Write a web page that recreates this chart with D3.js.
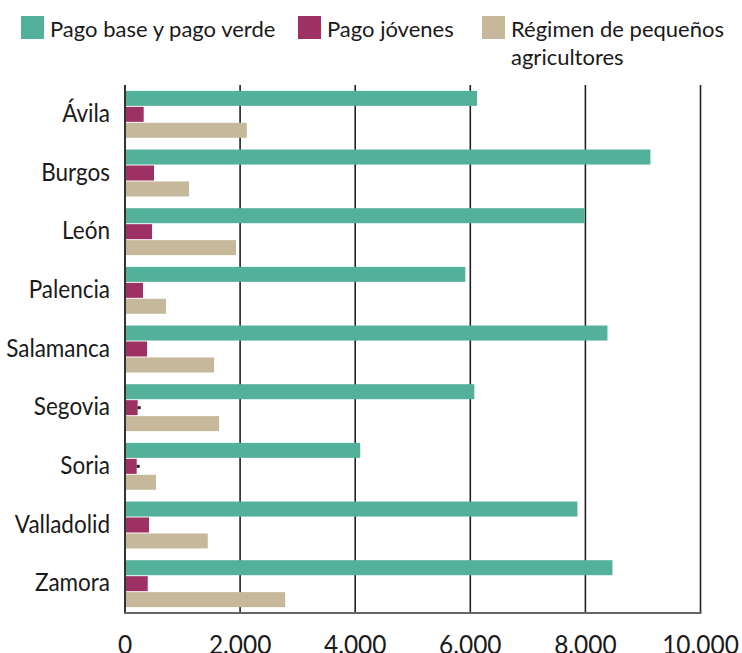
<!DOCTYPE html>
<html>
<head>
<meta charset="utf-8">
<script src="https://cdn.jsdelivr.net/npm/d3@7"></script>
<style>
  body { margin: 0; background: #fff; }
  text { font-family: Lato, "Open Sans", sans-serif; fill: #1a1a1a; }
</style>
</head>
<body>
<div id="chart"></div>
<script>
const provincias = ['Ávila', 'Burgos', 'León', 'Palencia', 'Salamanca', 'Segovia', 'Soria', 'Valladolid', 'Zamora'];
const pagoBase = [6117, 9130, 7983, 5913, 8383, 6070, 4087, 7861, 8470];
const pagoJovenes = [325, 504, 470, 313, 383, 220, 203, 417, 395];
const pequenos = [2117, 1113, 1930, 713, 1548, 1635, 539, 1438, 2783];
const marcados = ['Segovia', 'Soria'];
const xTicks = [0, 2000, 4000, 6000, 8000, 10000];

const series = [
  { key: 'base', label: ['Pago base y pago verde'], values: pagoBase, color: '#52b09b' },
  { key: 'jov', label: ['Pago jóvenes'], values: pagoJovenes, color: '#9d3164' },
  { key: 'peq', label: ['Régimen de pequeños', 'agricultores'], values: pequenos, color: '#c5b89b' }
];

const width = 742, height = 653;
const plotLeft = 125, plotRight = 700.5, plotTop = 85, plotBottom = 613;

const svg = d3.select('#chart').append('svg').attr('width', width).attr('height', height);

const x = d3.scaleLinear().domain([0, 10000]).range([plotLeft, plotRight]);
const y = d3.scaleBand().domain(provincias).range([plotTop, plotBottom]).paddingInner(0.2).paddingOuter(0.1);
const ySub = d3.scaleBand().domain(series.map(s => s.key)).range([0, y.bandwidth()]).paddingInner(0.06);

// legend
const legendX = [21, 298, 482];
series.forEach(function (s, i) {
  const g = svg.append('g').attr('transform', 'translate(' + legendX[i] + ',0)');
  g.append('rect').attr('x', 0).attr('y', 16).attr('width', 23).attr('height', 23).attr('fill', s.color);
  s.label.forEach(function (line, j) {
    g.append('text').attr('x', 29).attr('y', 37 + j * 28).style('font-size', '22px').text(line);
  });
});

// gridlines
svg.append('g').selectAll('line').data(xTicks.slice(1)).join('line')
  .attr('x1', d => x(d)).attr('x2', d => x(d))
  .attr('y1', plotTop).attr('y2', plotBottom)
  .attr('stroke', '#222').attr('stroke-width', 1.6);

// bars
const groups = svg.append('g').selectAll('g').data(provincias).join('g')
  .attr('transform', d => 'translate(0,' + y(d) + ')');

series.forEach(function (s) {
  groups.append('rect')
    .attr('x', x(0))
    .attr('y', ySub(s.key))
    .attr('width', (d, i) => x(s.values[i]) - x(0))
    .attr('height', ySub.bandwidth())
    .attr('fill', s.color);
});

// small dark marks at the end of some young-farmer bars
groups.filter(d => marcados.includes(d)).append('rect')
  .attr('x', d => x(pagoJovenes[provincias.indexOf(d)]))
  .attr('y', ySub('jov') + ySub.bandwidth() / 2 - 1.5)
  .attr('width', 3).attr('height', 3)
  .attr('fill', '#222');

// category labels (slightly condensed)
svg.append('g').selectAll('text').data(provincias).join('text')
  .attr('transform', d => 'translate(110,' + (y(d) + y.bandwidth() / 2 + 7.5) + ') scale(0.9,1)')
  .attr('text-anchor', 'end')
  .style('font-size', '25px')
  .text(d => d);

// axes lines
svg.append('line').attr('x1', plotLeft).attr('x2', plotLeft).attr('y1', plotTop).attr('y2', plotBottom + 1)
  .attr('stroke', '#333').attr('stroke-width', 2);
svg.append('line').attr('x1', plotLeft - 1).attr('x2', plotRight + 1).attr('y1', plotBottom).attr('y2', plotBottom)
  .attr('stroke', '#666').attr('stroke-width', 2);

// x axis labels
const fmt = d3.formatLocale({ decimal: ',', thousands: '.', grouping: [3], currency: ['', '€'] }).format(',');
svg.append('g').selectAll('text').data(xTicks).join('text')
  .attr('transform', d => 'translate(' + x(d) + ',654) scale(0.94,1)')
  .attr('text-anchor', 'middle')
  .style('font-size', '26px')
  .text(d => fmt(d));
</script>
</body>
</html>
